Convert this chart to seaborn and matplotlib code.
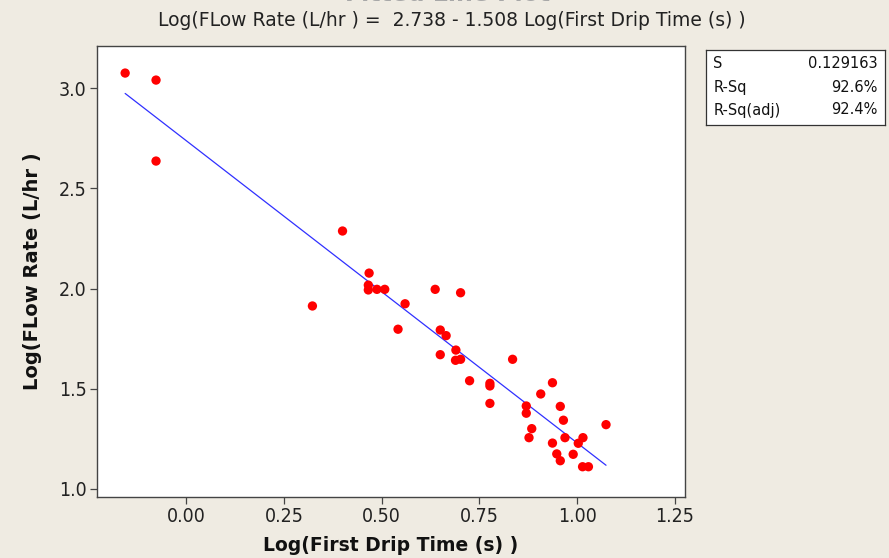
import numpy as np
import pandas as pd
import matplotlib
matplotlib.use("Agg")
import matplotlib.pyplot as plt
import seaborn as sns

# Log10 of first drip time (s) and flow rate (L/hr) for each trial
log_drip_time = [
    -0.156, -0.077, -0.077, 0.323, 0.400, 0.468, 0.466, 0.466, 0.488, 0.508,
    0.560, 0.542, 0.637, 0.702, 0.650, 0.665, 0.690, 0.650, 0.689, 0.702,
    0.725, 0.777, 0.777, 0.835, 0.777, 0.937, 0.907, 0.870, 0.870, 0.957,
    0.965, 0.884, 0.877, 0.937, 0.969, 1.003, 1.015, 0.990, 0.948, 0.957,
    1.014, 1.029, 1.074,
]
log_flow_rate = [
    3.075, 3.040, 2.636, 1.913, 2.287, 2.077, 2.017, 1.993, 1.996, 1.996,
    1.924, 1.797, 1.996, 1.979, 1.793, 1.765, 1.693, 1.670, 1.642, 1.647,
    1.540, 1.527, 1.514, 1.647, 1.427, 1.530, 1.474, 1.414, 1.378, 1.412,
    1.343, 1.301, 1.256, 1.229, 1.256, 1.228, 1.256, 1.173, 1.175, 1.141,
    1.111, 1.111, 1.321,
]

# Regression summary
intercept = 2.738
slope = -1.508
stat_names = ["S", "R-Sq", "R-Sq(adj)"]
stat_values = ["0.129163", "92.6%", "92.4%"]

x_ticks = [0.00, 0.25, 0.50, 0.75, 1.00, 1.25]
y_ticks = [1.0, 1.5, 2.0, 2.5, 3.0]

bg = "#efebe2"

sns.set_theme(style="white")
plt.rcParams["font.family"] = ["DejaVu Sans"]

df = pd.DataFrame({"x": log_drip_time, "y": log_flow_rate})
x_fit = np.array([min(log_drip_time), max(log_drip_time)])
fit = pd.DataFrame({"x": x_fit, "y": intercept + slope * x_fit})

fig = plt.figure(figsize=(8.89, 5.58), dpi=100, facecolor=bg)
ax = fig.add_axes([97 / 889, 1 - 497 / 558, (685 - 97) / 889, (497 - 46) / 558])
ax.set_facecolor("white")

sns.lineplot(data=fit, x="x", y="y", ax=ax, color="#3030ff", linewidth=0.9, zorder=2)
sns.scatterplot(data=df, x="x", y="y", ax=ax, color="#ff0000", s=45,
                edgecolor="none", linewidth=0, zorder=3)

ax.set_xlim(-0.228, 1.276)
ax.set_ylim(0.96, 3.21)
ax.set_xticks(x_ticks)
ax.set_xticklabels([f"{v:.2f}" for v in x_ticks], fontstretch="condensed")
ax.set_yticks(y_ticks)
ax.set_yticklabels([f"{v:.1f}" for v in y_ticks], fontstretch="condensed")
ax.tick_params(axis="both", which="both", direction="out", length=5, width=0.9,
               color="#444444", labelsize=14, labelcolor="#222222",
               bottom=True, left=True, top=False, right=False, pad=2.5)

for side in ["left", "bottom", "top", "right"]:
    ax.spines[side].set_visible(True)
    ax.spines[side].set_color("#444444")
    ax.spines[side].set_linewidth(1.0)

ax.set_xlabel("Log(First Drip Time (s) )", fontsize=13.5, fontweight="bold",
              color="#111111", labelpad=7)
ax.set_ylabel("Log(FLow Rate (L/hr )", fontsize=14, fontweight="bold",
              color="#111111", labelpad=12)

# Titles (the main title sits at the very top edge)
fig.text(448 / 889, 1 - 1 / 558, "Fitted Line Plot", ha="center", va="baseline",
         fontsize=17, fontweight="bold", color="#a8a8a8")
fig.text(452 / 889, 1 - 21 / 558,
         "Log(FLow Rate (L/hr ) =  2.738 - 1.508 Log(First Drip Time (s) )",
         ha="center", va="center", fontsize=13.5, color="#222222")

# Summary statistics box
box = fig.add_axes([706 / 889, 1 - 125 / 558, (885 - 706) / 889, (125 - 50) / 558])
box.set_facecolor("white")
box.set_xticks([])
box.set_yticks([])
for side in box.spines.values():
    side.set_color("#333333")
    side.set_linewidth(0.9)
box.set_xlim(0, 1)
box.set_ylim(0, 1)
row_y = [0.823, 0.503, 0.2]
for name, val, yy in zip(stat_names, stat_values, row_y):
    box.text(0.04, yy, name, ha="left", va="center", fontsize=10.5, color="#111111")
    box.text(0.96, yy, val, ha="right", va="center", fontsize=10.5, color="#111111")

fig.savefig("out.png", dpi=100, facecolor=bg)
